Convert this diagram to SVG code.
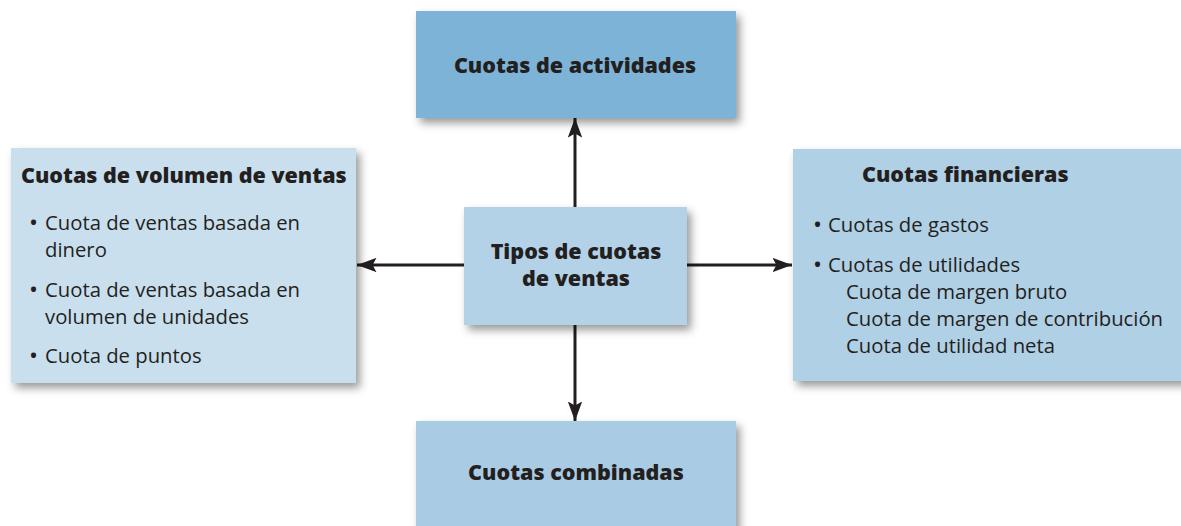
<svg xmlns="http://www.w3.org/2000/svg" width="1181" height="526" viewBox="0 0 1181 526">
<defs>
<filter id="sh" x="-10%" y="-10%" width="125%" height="130%">
<feDropShadow dx="4" dy="5" stdDeviation="4" flood-color="#000" flood-opacity="0.4"/>
</filter>
<marker id="ah" viewBox="0 0 10 10" refX="10" refY="5" markerWidth="6.5" markerHeight="4.8" markerUnits="strokeWidth" orient="auto" preserveAspectRatio="none">
<path d="M0,0 L10,5 L0,10 L2,5 Z" fill="#231F20"/>
</marker>
<style>
.t{font-family:"Open Sans","Noto Sans",sans-serif;fill:#231F20}
.b{font-weight:800;font-size:21.5px}
.r{font-size:20.3px}
.d{font-size:24px}
.c{text-anchor:middle}
</style>
</defs>
<rect width="1181" height="526" fill="#fff"/>
<g id="connectors" stroke="#231F20" stroke-width="3" fill="none">
<line x1="575" y1="207" x2="575" y2="118" marker-end="url(#ah)"/>
<line x1="575" y1="325" x2="575" y2="421" marker-end="url(#ah)"/>
<line x1="464" y1="265" x2="357" y2="265" marker-end="url(#ah)"/>
<line x1="687" y1="265" x2="792" y2="265" marker-end="url(#ah)"/>
</g>
<g id="n-actividades">
<rect x="416" y="11" width="320" height="107" fill="#7EB3D8" filter="url(#sh)"/>
<text class="t b c" x="575" y="73">Cuotas de actividades</text>
</g>
<g id="n-volumen">
<rect x="11" y="148" width="345" height="235" fill="#C9DFEE" filter="url(#sh)"/>
<text class="t b" x="21" y="183">Cuotas de volumen de ventas</text>
<text class="t r"><tspan class="d" x="29" y="231">•</tspan><tspan x="45" y="230">Cuota de ventas basada en</tspan><tspan x="45" y="257">dinero</tspan><tspan class="d" x="29" y="298">•</tspan><tspan x="45" y="297">Cuota de ventas basada en</tspan><tspan x="45" y="324">volumen de unidades</tspan><tspan class="d" x="29" y="364">•</tspan><tspan x="45" y="363">Cuota de puntos</tspan></text>
</g>
<g id="n-tipos">
<rect x="464" y="207" width="223" height="118" fill="#B3D1E7" filter="url(#sh)"/>
<text class="t b c"><tspan x="576" y="259">Tipos de cuotas</tspan><tspan x="576" y="286">de ventas</tspan></text>
</g>
<g id="n-financieras">
<rect x="793" y="149" width="400" height="232" fill="#B0D0E6" filter="url(#sh)"/>
<text class="t b" x="862" y="182">Cuotas financieras</text>
<text class="t r"><tspan class="d" x="813" y="233">•</tspan><tspan x="828" y="232">Cuotas de gastos</tspan><tspan class="d" x="813" y="273">•</tspan><tspan x="828" y="272">Cuotas de utilidades</tspan><tspan x="846" y="299">Cuota de margen bruto</tspan><tspan x="846" y="326">Cuota de margen de contribución</tspan><tspan x="846" y="353">Cuota de utilidad neta</tspan></text>
</g>
<g id="n-combinadas">
<rect x="416" y="421" width="320" height="120" fill="#A9CBE4" filter="url(#sh)"/>
<text class="t b c" x="576" y="480">Cuotas combinadas</text>
</g>
</svg>
